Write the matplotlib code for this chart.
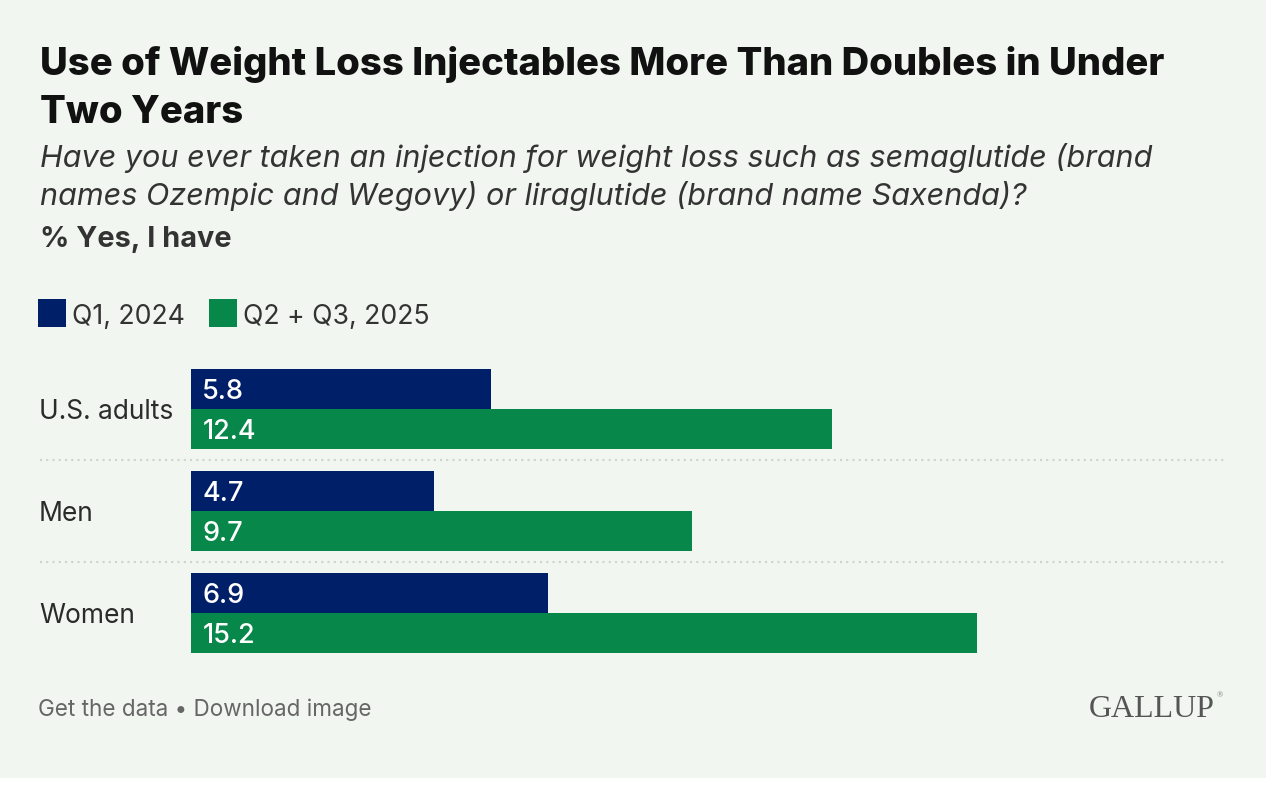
import matplotlib.pyplot as plt
from matplotlib.patches import Rectangle

groups = ["U.S. adults", "Men", "Women"]
q1_2024 = [5.8, 4.7, 6.9]
q23_2025 = [12.4, 9.7, 15.2]
series_names = ["Q1, 2024", "Q2 + Q3, 2025"]

NAVY = "#001F69"
GREEN = "#08874A"
BG = "#F1F7F0"
W, H = 1272, 786

plt.rcParams['font.family'] = ['Inter', 'DejaVu Sans']

fig = plt.figure(figsize=(W / 100, H / 100), dpi=100)
fig.patch.set_facecolor("white")
# light green card, white margin at right and bottom
fig.patches.append(Rectangle((0, 1 - 778 / H), 1266 / W, 778 / H,
                             transform=fig.transFigure, facecolor=BG,
                             edgecolor="none", zorder=-5))


def px(x, y):
    return x / W, 1 - y / H


fig.text(*px(40, 75), "Use of Weight Loss Injectables More Than Doubles in Under",
         fontsize=27.5, fontweight="heavy", color="#111111", va="baseline")
fig.text(*px(40, 123), "Two Years", fontsize=27.5, fontweight="heavy",
         color="#111111", va="baseline")
fig.text(*px(40, 167), "Have you ever taken an injection for weight loss such as semaglutide (brand",
         fontsize=22, fontstyle="italic", color="#333333", va="baseline")
fig.text(*px(40, 205), "names Ozempic and Wegovy) or liraglutide (brand name Saxenda)?",
         fontsize=22, fontstyle="italic", color="#333333", va="baseline")
fig.text(*px(40, 247), "% Yes, I have", fontsize=20.8, fontweight="bold",
         color="#333333", va="baseline")

# legend
lx = [38, 209]
for x0, name, col in zip(lx, series_names, [NAVY, GREEN]):
    fig.patches.append(Rectangle(px(x0, 327), 28 / W, 28 / H,
                                 transform=fig.transFigure, facecolor=col,
                                 edgecolor="none"))
    fig.text(*px(x0 + 34, 324), name, fontsize=19.2, color="#333333", va="baseline")

ax = fig.add_axes([191 / W, 1 - 664 / H, 1034 / W, 306 / H])
ax.set_facecolor("none")
bh = 40 / 102
ypos = list(range(len(groups)))
ax.barh([y - bh / 2 for y in ypos], q1_2024, height=bh, color=NAVY)
ax.barh([y + bh / 2 for y in ypos], q23_2025, height=bh, color=GREEN)
ax.set_xlim(0, 20)
ax.set_ylim(2.5, -0.5)
ax.axis("off")

for y, a, b in zip(ypos, q1_2024, q23_2025):
    ax.text(0.22, y - bh / 2, f"{a}", color="white", fontsize=19.5,
            fontweight="medium", va="center_baseline", ha="left")
    ax.text(0.22, y + bh / 2, f"{b}", color="white", fontsize=19.5,
            fontweight="medium", va="center_baseline", ha="left")
    ax.text(-152 / 1034, y, groups[y], transform=ax.get_yaxis_transform(),
            fontsize=19, color="#2b2b2b", va="center_baseline", ha="left")

for sep in [0.5, 1.5]:
    ax.hlines(sep, -151 / 1034, 1.0, transform=ax.get_yaxis_transform(),
              colors="#cfd3cf", linestyles=(0, (1, 2)), linewidth=1.5,
              clip_on=False)

fig.text(*px(38, 716), "Get the data \u2022 Download image", fontsize=16.2,
         color="#666666", va="baseline")
fig.text(*px(1215, 717), "GALLUP", fontsize=23, color="#555555",
         family=["Liberation Serif", "DejaVu Serif"], va="baseline", ha="right")
fig.text(*px(1217, 697), "\u00ae", fontsize=6, color="#777777",
         family=["Liberation Serif", "DejaVu Serif"], va="baseline", ha="left")

fig.savefig("out.png", dpi=100, facecolor=fig.get_facecolor())
